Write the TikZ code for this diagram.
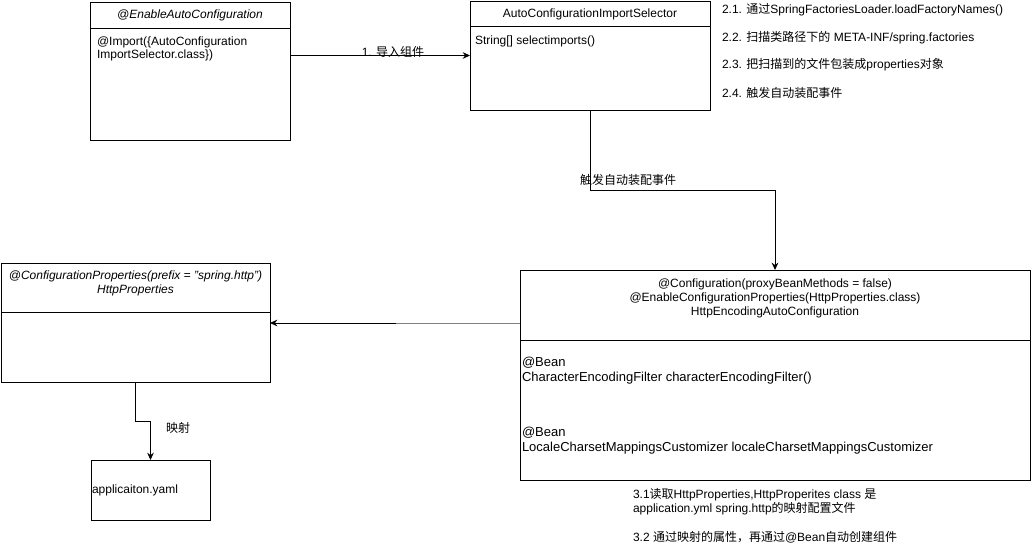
\documentclass[tikz,border=0pt]{standalone}
\usepackage{fontspec}
\setmainfont{Liberation Sans}
\newfontfamily\cjk{Noto Sans CJK SC}
\usetikzlibrary{arrows.meta,calc}
\tikzset{
  box/.style={draw,line width=0.75pt,inner sep=0pt,outer sep=0pt},
  txt/.style={inner sep=0pt,outer sep=0pt,font=\fontsize{9}{10.5}\selectfont},
  itxt/.style={txt,font=\fontsize{9}{10.5}\selectfont\itshape},
  btxt/.style={txt,font=\fontsize{9.75}{11.25}\selectfont},
  arr/.style={line width=0.75pt,-{Stealth[length=5.5pt,width=5pt]}},
  conn/.style={line width=0.75pt}
}
\begin{document}
\begin{tikzpicture}[x=0.75pt,y=-0.75pt]
\fill[white] (0,0) rectangle (1031,546);
\useasboundingbox (0,0) rectangle (1031,546);
% boxes
\node[box,minimum width=150pt,minimum height=103.5pt] (b1) at (190,71) {};
\node[box,minimum width=180pt,minimum height=81.75pt] (b2) at (590,55.5) {};
\node[box,minimum width=201.75pt,minimum height=89.25pt] (b3) at (135.5,322.5) {};
\node[box,minimum width=382.5pt,minimum height=157.5pt] (b4) at (775,375) {};
\node[box,minimum width=89.25pt,minimum height=45pt] (yaml) at (150.5,490) {};
% header dividers
\draw[conn] (b1.north west |- 0,28) -- (b1.north east |- 0,28);
\draw[conn] (b2.north west |- 0,26) -- (b2.north east |- 0,26);
\draw[conn] (b3.north west |- 0,312) -- (b3.north east |- 0,312);
\draw[conn] (b4.north west |- 0,340) -- (b4.north east |- 0,340);
% texts
\node[itxt] (t1) at (190,15) {@EnableAutoConfiguration};
\node[txt,anchor=west,align=left,font=\fontsize{9}{9.6}\selectfont] (t1b) at (97,49) {@Import(\{AutoConfiguration\\ImportSelector.class\})};
\node[txt] (t2) at (590,14) {AutoConfigurationImportSelector};
\node[txt,anchor=west] (t2b) at (475,41) {String[] selectimports()};
\node[txt,anchor=west] (n21) at (722,10) {2.1. {\cjk 通过}SpringFactoriesLoader.loadFactoryNames()};
\node[txt,anchor=west] (n22) at (722,38) {2.2. {\cjk 扫描类路径下的} META-INF/spring.factories};
\node[txt,anchor=west] (n23) at (722,65) {2.3. {\cjk 把扫描到的文件包装成}properties{\cjk 对象}};
\node[txt,anchor=west] (n24) at (722,93) {2.4. {\cjk 触发自动装配事件}};
\node[itxt,align=center] (t3) at (135.5,283) {@ConfigurationProperties(prefix = "spring.http")\\HttpProperties};
\node[txt,align=center] (t4) at (775,298) {@Configuration(proxyBeanMethods = false)\\@EnableConfigurationProperties(HttpProperties.class)\\HttpEncodingAutoConfiguration};
\node[btxt,anchor=west,align=left] (t4a) at (522,370.5) {@Bean\\CharacterEncodingFilter characterEncodingFilter()};
\node[btxt,anchor=west,align=left] (t4b) at (522,440.5) {@Bean\\LocaleCharsetMappingsCustomizer localeCharsetMappingsCustomizer};
\node[txt,anchor=west] (t5) at (92,490) {applicaiton.yaml};
\node[txt,anchor=west,align=left] (n31) at (633,501.5) {3.1{\cjk 读取}HttpProperties,HttpProperites class {\cjk 是}\\application.yml spring.http{\cjk 的映射配置文件}};
\node[txt,anchor=west] (n32) at (633,537) {3.2 {\cjk 通过映射的属性，再通过}@Bean{\cjk 自动创建组件}};
% connectors
\coordinate (y55) at (0,55.5);
\draw[arr] (b1.east |- y55) -- (b2.west |- y55);
\node[txt] (l1) at (393,52) {1. {\cjk 导入组件}};
\draw[arr] (b2.south) |- ($(b4.north)+(0,-80)$) -- (b4.north);
\node[txt] (l2) at (628,180) {\cjk 触发自动装配事件};
\coordinate (y323) at (0,323);
\draw[conn,draw=gray] (b4.west |- y323) -- (396,323) coordinate (mid);
\draw[arr] (mid) -- (b3.east |- y323);
\draw[arr] (b3.south) |- ($(yaml.north)+(0,-39)$) -- (yaml.north);
\node[txt] (l3) at (178,428) {\cjk 映射};
\end{tikzpicture}
\end{document}
